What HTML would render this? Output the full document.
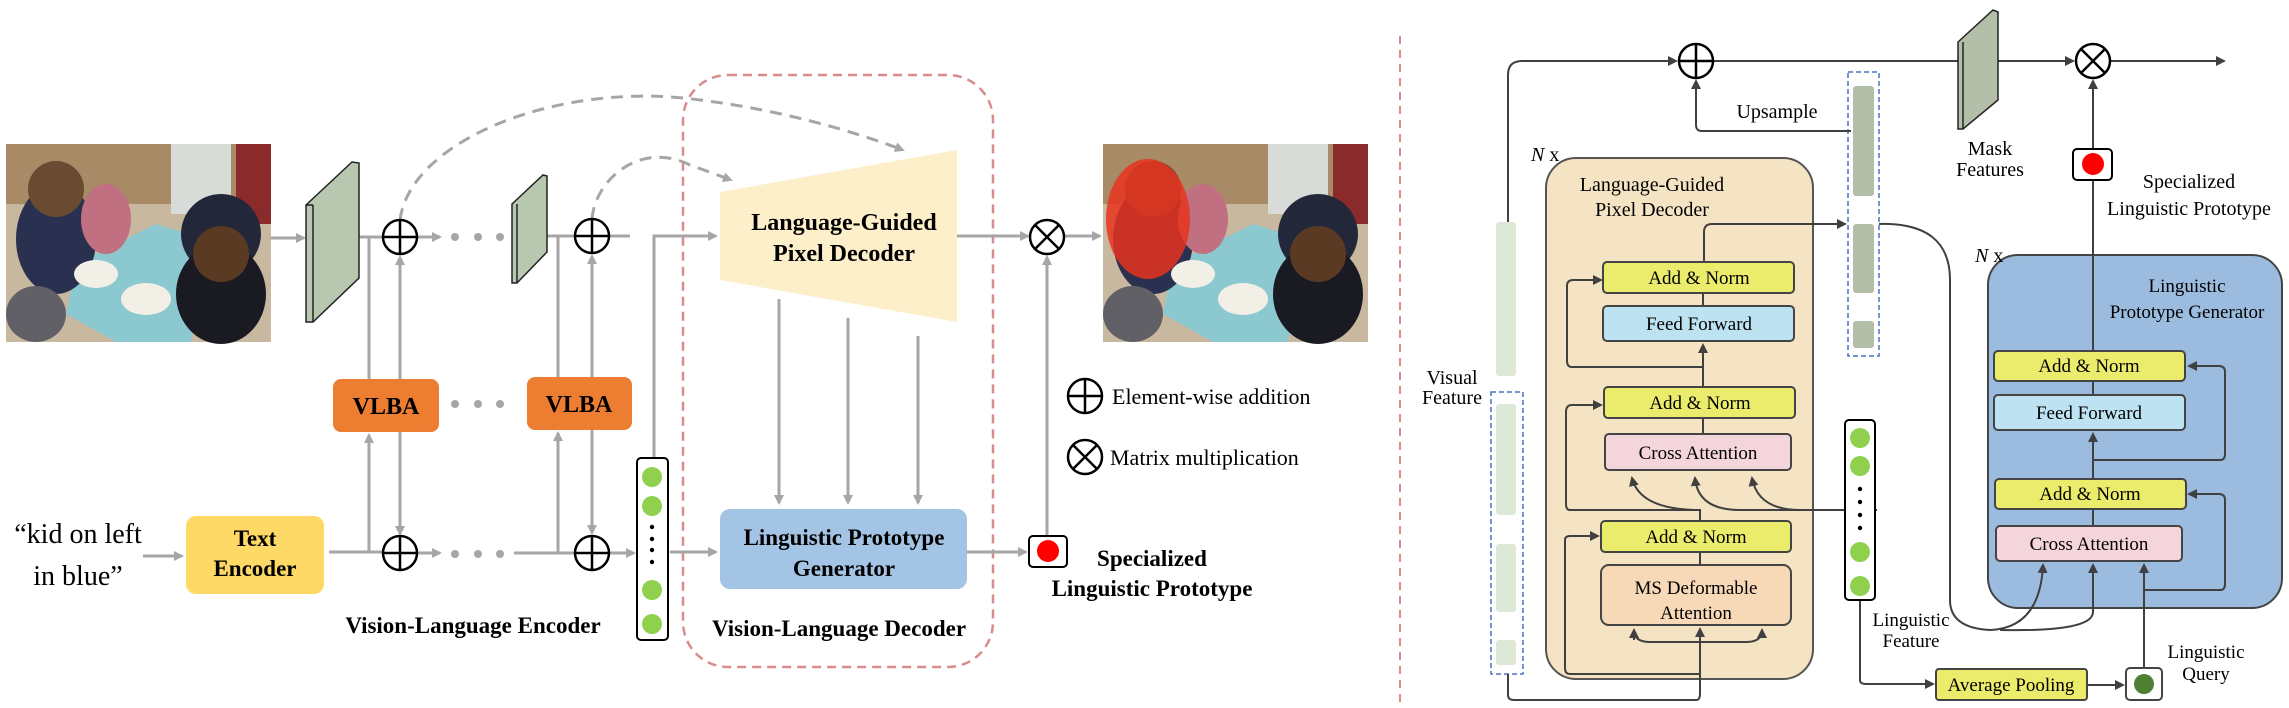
<!DOCTYPE html>
<html><head><meta charset="utf-8"><style>
html,body{margin:0;padding:0;background:#fff;}
svg{display:block;font-family:"Liberation Serif",serif;}
</style></head><body>
<svg width="2289" height="708" viewBox="0 0 2289 708" xmlns="http://www.w3.org/2000/svg">
<defs>
<marker id="ag" markerWidth="10" markerHeight="10" refX="8" refY="5" orient="auto" markerUnits="userSpaceOnUse"><path d="M0,0 L10,5 L0,10 z" fill="#a6a6a6"/></marker>
<marker id="ad" markerWidth="10" markerHeight="10" refX="8" refY="5" orient="auto" markerUnits="userSpaceOnUse"><path d="M0,0 L10,5 L0,10 z" fill="#404040"/></marker>
<g id="photo">
<rect x="0" y="0" width="265" height="198" fill="#c9b8a0"/>
<rect x="0" y="0" width="265" height="60" fill="#a88a66"/>
<rect x="165" y="0" width="60" height="70" fill="#d8dcd8"/>
<rect x="230" y="0" width="35" height="80" fill="#8a2a2a"/>
<polygon points="70,120 150,80 200,95 185,198 110,198 60,170" fill="#8cc8d0"/>
<ellipse cx="50" cy="95" rx="40" ry="55" fill="#2a3050"/>
<ellipse cx="50" cy="45" rx="28" ry="28" fill="#6a4a30"/>
<ellipse cx="100" cy="75" rx="25" ry="35" fill="#c07080"/>
<ellipse cx="215" cy="90" rx="40" ry="40" fill="#22283a"/>
<ellipse cx="215" cy="150" rx="45" ry="50" fill="#1a1a22"/>
<ellipse cx="215" cy="110" rx="28" ry="28" fill="#5a3a22"/>
<ellipse cx="90" cy="130" rx="22" ry="14" fill="#f2efe6"/>
<ellipse cx="140" cy="155" rx="25" ry="16" fill="#f2efe6"/>
<ellipse cx="30" cy="170" rx="30" ry="28" fill="#606066"/>
</g>
</defs>

<!-- LEFT PANEL -->
<use href="#photo" x="6" y="144"/>
<g transform="translate(1103,144)"><use href="#photo"/><ellipse cx="45" cy="75" rx="42" ry="60" fill="#e8321e" opacity="0.85"/></g>

<!-- decoder dashed box -->
<rect x="683" y="75" width="310" height="592" rx="45" fill="none" stroke="#d98c8c" stroke-width="2.5" stroke-dasharray="9,6"/>

<g stroke="#a6a6a6" stroke-width="3" fill="none">
<line x1="271" y1="238" x2="304" y2="238" marker-end="url(#ag)"/>
<line x1="359" y1="237" x2="383" y2="237"/>
<line x1="417" y1="237" x2="440" y2="237" marker-end="url(#ag)"/>
<line x1="547" y1="236" x2="575" y2="236"/>
<line x1="609" y1="236" x2="630" y2="236"/>
<line x1="957" y1="236" x2="1028" y2="236" marker-end="url(#ag)"/>
<line x1="1064" y1="236" x2="1100" y2="236" marker-end="url(#ag)"/>
<polyline points="654,458 654,236 716,236" marker-end="url(#ag)"/>
<!-- vlba connectors -->
<line x1="369" y1="379" x2="369" y2="237"/>
<line x1="400" y1="379" x2="400" y2="257" marker-end="url(#ag)"/>
<line x1="558" y1="377" x2="558" y2="236"/>
<line x1="592" y1="377" x2="592" y2="256" marker-end="url(#ag)"/>
<line x1="369" y1="553" x2="369" y2="435" marker-end="url(#ag)"/>
<line x1="400" y1="432" x2="400" y2="534" marker-end="url(#ag)"/>
<line x1="558" y1="553" x2="558" y2="433" marker-end="url(#ag)"/>
<line x1="592" y1="430" x2="592" y2="533" marker-end="url(#ag)"/>
<line x1="143" y1="556" x2="182" y2="556" marker-end="url(#ag)"/>
<line x1="329" y1="552" x2="383" y2="552"/>
<line x1="417" y1="553" x2="440" y2="553" marker-end="url(#ag)"/>
<line x1="514" y1="553" x2="575" y2="553"/>
<line x1="609" y1="553" x2="634" y2="553" marker-end="url(#ag)"/>
<line x1="670" y1="552" x2="716" y2="552" marker-end="url(#ag)"/>
<line x1="779" y1="299" x2="779" y2="503" marker-end="url(#ag)"/>
<line x1="848" y1="318" x2="848" y2="503" marker-end="url(#ag)"/>
<line x1="918" y1="336" x2="918" y2="503" marker-end="url(#ag)"/>
<line x1="967" y1="552" x2="1026" y2="552" marker-end="url(#ag)"/>
<line x1="1047" y1="536" x2="1047" y2="257" marker-end="url(#ag)"/>
<path d="M400,220 C410,140 560,80 700,100 C780,110 850,130 903,150" stroke-dasharray="12,8" marker-end="url(#ag)"/>
<path d="M592,219 C595,180 640,140 690,165 C710,172 720,176 731,180" stroke-dasharray="12,8" marker-end="url(#ag)"/>
</g>
<g fill="#a6a6a6">
<circle cx="455" cy="237" r="4"/><circle cx="478" cy="237" r="4"/><circle cx="500" cy="237" r="4"/>
<circle cx="455" cy="404" r="4"/><circle cx="478" cy="404" r="4"/><circle cx="500" cy="404" r="4"/>
<circle cx="455" cy="554" r="4"/><circle cx="478" cy="554" r="4"/><circle cx="500" cy="554" r="4"/>
</g>

<!-- slabs -->
<polygon points="306,205 352,162 359,163 359,278 313,322 306,322" fill="#b8c8b0" stroke="#222" stroke-width="1.5"/>
<line x1="313" y1="205" x2="313" y2="322" stroke="#222" stroke-width="1.5"/>
<line x1="306" y1="205" x2="313" y2="205" stroke="#222" stroke-width="1.5"/>
<polygon points="512,204 543,175 547,176 547,252 517,283 512,283" fill="#b8c8b0" stroke="#222" stroke-width="1.5"/>
<line x1="517" y1="204" x2="517" y2="283" stroke="#222" stroke-width="1.5"/>

<!-- plus / times -->
<g stroke="#000" stroke-width="2.5" fill="#fff">
<circle cx="400" cy="237" r="17"/><circle cx="592" cy="236" r="17"/>
<circle cx="400" cy="553" r="17"/><circle cx="592" cy="553" r="17"/>
<circle cx="1047" cy="237" r="17"/>
<circle cx="1085" cy="396" r="17"/><circle cx="1085" cy="457" r="17"/>
</g>
<g stroke="#000" stroke-width="2.5">
<path d="M383,237 H417 M400,220 V254"/>
<path d="M575,236 H609 M592,219 V253"/>
<path d="M383,553 H417 M400,536 V570"/>
<path d="M575,553 H609 M592,536 V570"/>
<path d="M1035,225 L1059,249 M1059,225 L1035,249"/>
<path d="M1068,396 H1102 M1085,379 V413"/>
<path d="M1073,445 L1097,469 M1097,445 L1073,469"/>
</g>

<!-- trapezoid -->
<polygon points="720,192 957,150 957,322 720,280" fill="#fdefc9"/>
<text x="844" y="230" font-size="24" font-weight="bold" text-anchor="middle">Language-Guided</text>
<text x="844" y="261" font-size="24" font-weight="bold" text-anchor="middle">Pixel Decoder</text>

<!-- LPG -->
<rect x="720" y="509" width="247" height="80" rx="10" fill="#a4c4e6"/>
<text x="844" y="545" font-size="23" font-weight="bold" text-anchor="middle">Linguistic Prototype</text>
<text x="844" y="576" font-size="23" font-weight="bold" text-anchor="middle">Generator</text>

<!-- VLBA -->
<rect x="333" y="379" width="106" height="53" rx="8" fill="#ed7d31"/>
<text x="386" y="414" font-size="24" font-weight="bold" text-anchor="middle">VLBA</text>
<rect x="527" y="377" width="105" height="53" rx="8" fill="#ed7d31"/>
<text x="579" y="412" font-size="24" font-weight="bold" text-anchor="middle">VLBA</text>

<!-- text encoder -->
<rect x="186" y="516" width="138" height="78" rx="10" fill="#ffd966"/>
<text x="255" y="546" font-size="23" font-weight="bold" text-anchor="middle">Text</text>
<text x="255" y="576" font-size="23" font-weight="bold" text-anchor="middle">Encoder</text>
<text x="78" y="543" font-size="28" text-anchor="middle">“kid on left</text>
<text x="78" y="585" font-size="28" text-anchor="middle">in blue”</text>

<!-- column -->
<rect x="637" y="458" width="31" height="182" rx="4" fill="#fff" stroke="#000" stroke-width="2"/>
<g fill="#8fd14f"><ellipse cx="652" cy="477" rx="10" ry="10"/><ellipse cx="652" cy="506" rx="10" ry="10"/><ellipse cx="652" cy="590" rx="10" ry="10"/><ellipse cx="652" cy="624" rx="10" ry="10"/></g>
<g fill="#000"><circle cx="652" cy="527" r="2.2"/><circle cx="652" cy="539" r="2.2"/><circle cx="652" cy="550" r="2.2"/><circle cx="652" cy="562" r="2.2"/></g>

<!-- specialized -->
<rect x="1029" y="536" width="38" height="31" rx="4" fill="#fff" stroke="#000" stroke-width="2"/>
<circle cx="1048" cy="551" r="11" fill="#ff0000"/>
<text x="1152" y="566" font-size="23" font-weight="bold" text-anchor="middle">Specialized</text>
<text x="1152" y="596" font-size="23" font-weight="bold" text-anchor="middle">Linguistic Prototype</text>
<text x="1112" y="404" font-size="22">Element-wise addition</text>
<text x="1110" y="465" font-size="22">Matrix multiplication</text>
<text x="473" y="633" font-size="23" font-weight="bold" text-anchor="middle">Vision-Language Encoder</text>
<text x="839" y="636" font-size="23" font-weight="bold" text-anchor="middle">Vision-Language Decoder</text>

<line x1="1400" y1="36" x2="1400" y2="708" stroke="#d98c8c" stroke-width="2" stroke-dasharray="8,6"/>

<!-- RIGHT PANEL -->
<rect x="1546" y="158" width="267" height="521" rx="30" fill="#f5e4c3" stroke="#555" stroke-width="2"/>
<rect x="1988" y="255" width="294" height="353" rx="30" fill="#9bbcdf" stroke="#444" stroke-width="2"/>

<!-- visual feature -->
<rect x="1496" y="222" width="20" height="154" rx="3" fill="#dde8d6"/>
<rect x="1491" y="392" width="32" height="282" fill="none" stroke="#4a72c4" stroke-width="1.5" stroke-dasharray="5,3"/>
<rect x="1496" y="404" width="20" height="111" rx="3" fill="#dde8d6"/>
<rect x="1496" y="544" width="20" height="68" rx="3" fill="#dde8d6"/>
<rect x="1496" y="640" width="20" height="25" rx="3" fill="#dde8d6"/>
<text x="1452" y="384" font-size="20" text-anchor="middle">Visual</text>
<text x="1452" y="404" font-size="20" text-anchor="middle">Feature</text>

<!-- upsample dashed -->
<rect x="1848" y="72" width="31" height="284" fill="none" stroke="#4a72c4" stroke-width="1.5" stroke-dasharray="5,3"/>
<rect x="1853" y="86" width="21" height="110" rx="3" fill="#b3bfa8"/>
<rect x="1853" y="224" width="21" height="69" rx="3" fill="#b3bfa8"/>
<rect x="1853" y="321" width="21" height="27" rx="3" fill="#b3bfa8"/>

<g stroke="#404040" stroke-width="2" fill="none">
<path d="M1508,222 V75 Q1508,61 1522,61 H1676" marker-end="url(#ad)"/>
<line x1="1713" y1="61" x2="1958" y2="61"/>
<line x1="1998" y1="61" x2="2073" y2="61" marker-end="url(#ad)"/>
<line x1="2110" y1="61" x2="2224" y2="61" marker-end="url(#ad)"/>
<path d="M1851,131 H1702 Q1696,131 1696,125 V81" marker-end="url(#ad)"/>
<line x1="2093" y1="149" x2="2093" y2="81" marker-end="url(#ad)"/>
<line x1="2093" y1="180" x2="2093" y2="351"/>
<!-- LGPD internals -->
<path d="M1508,674 V695 Q1508,700 1514,700 H1696 Q1700,700 1700,694 V629" marker-end="url(#ad)"/>
<path d="M1634,630 Q1634,642 1650,642 H1746 Q1762,642 1762,630" marker-end="url(#ad)"/>
<line x1="1634" y1="640" x2="1634" y2="630" marker-end="url(#ad)"/>
<path d="M1700,674 H1570 Q1565,674 1565,668 V540 Q1565,536 1570,536 H1598" marker-end="url(#ad)"/>
<line x1="1700" y1="565" x2="1700" y2="552"/>
<path d="M1700,521 V510 H1570 Q1566,510 1566,504 V412 Q1566,405 1572,405 H1601" marker-end="url(#ad)"/>
<path d="M1700,510 Q1640,510 1632,478" marker-end="url(#ad)"/>
<path d="M1877,510 H1740 Q1698,510 1695,478" marker-end="url(#ad)"/>
<path d="M1800,510 Q1758,510 1752,478" marker-end="url(#ad)"/>
<line x1="1703" y1="434" x2="1703" y2="418"/>
<line x1="1703" y1="387" x2="1703" y2="345" marker-end="url(#ad)"/>
<path d="M1703,367 H1572 Q1567,367 1567,361 V286 Q1567,280 1573,280 H1601" marker-end="url(#ad)"/>
<line x1="1703" y1="306" x2="1703" y2="293"/>
<path d="M1704,262 V232 Q1704,224 1712,224 H1845" marker-end="url(#ad)"/>
<!-- linguistic feature to avg pooling -->
<path d="M1860,600 V680 Q1860,684 1866,684 H1933" marker-end="url(#ad)"/>
<line x1="2087" y1="685" x2="2123" y2="685" marker-end="url(#ad)"/>
<!-- curve to LPG cross attn -->
<path d="M1879,224 Q1950,222 1950,280 V600 Q1950,628 1990,630 Q2040,628 2043,565" marker-end="url(#ad)"/>
<path d="M2000,630 Q2093,632 2093,612 V565" marker-end="url(#ad)"/>
<line x1="2144" y1="668" x2="2144" y2="565" marker-end="url(#ad)"/>
<path d="M2144,590 H2220 Q2225,590 2225,584 V500 Q2225,494 2219,494 H2189" marker-end="url(#ad)"/>
<line x1="2093" y1="526" x2="2093" y2="509"/>
<line x1="2093" y1="479" x2="2093" y2="434" marker-end="url(#ad)"/>
<path d="M2093,460 H2220 Q2225,460 2225,454 V372 Q2225,366 2219,366 H2189" marker-end="url(#ad)"/>
<line x1="2093" y1="395" x2="2093" y2="381"/>
</g>

<!-- plus/times right -->
<circle cx="1696" cy="61" r="17" fill="#fff" stroke="#000" stroke-width="2.5"/>
<path d="M1679,61 H1713 M1696,44 V78" stroke="#000" stroke-width="2.5"/>
<circle cx="2093" cy="61" r="17" fill="#fff" stroke="#000" stroke-width="2.5"/>
<path d="M2081,49 L2105,73 M2105,49 L2081,73" stroke="#000" stroke-width="2.5"/>

<!-- mask features slab -->
<polygon points="1958,42 1993,10 1998,12 1998,100 1963,129 1958,129" fill="#b3bfa8" stroke="#222" stroke-width="1.5"/>
<line x1="1963" y1="42" x2="1963" y2="129" stroke="#222" stroke-width="1.5"/>
<text x="1990" y="155" font-size="20" text-anchor="middle">Mask</text>
<text x="1990" y="176" font-size="20" text-anchor="middle">Features</text>
<text x="1777" y="118" font-size="20" text-anchor="middle">Upsample</text>

<rect x="2073" y="149" width="39" height="31" rx="4" fill="#fff" stroke="#000" stroke-width="2"/>
<circle cx="2093" cy="164" r="11" fill="#ff0000"/>
<text x="2189" y="188" font-size="20" text-anchor="middle">Specialized</text>
<text x="2189" y="215" font-size="20" text-anchor="middle">Linguistic Prototype</text>

<text x="1531" y="161" font-size="20"><tspan font-style="italic">N</tspan> x</text>
<text x="1975" y="262" font-size="20"><tspan font-style="italic">N</tspan> x</text>
<text x="1652" y="191" font-size="20" text-anchor="middle">Language-Guided</text>
<text x="1652" y="216" font-size="20" text-anchor="middle">Pixel Decoder</text>
<text x="2187" y="292" font-size="19" text-anchor="middle">Linguistic</text>
<text x="2187" y="318" font-size="19" text-anchor="middle">Prototype Generator</text>

<g stroke="#444" stroke-width="2">
<rect x="1603" y="262" width="191" height="31" rx="4" fill="#ecec6c"/>
<rect x="1603" y="306" width="191" height="35" rx="4" fill="#bde3f2"/>
<rect x="1604" y="387" width="191" height="31" rx="4" fill="#ecec6c"/>
<rect x="1605" y="434" width="186" height="36" rx="4" fill="#f5d5dc"/>
<rect x="1601" y="521" width="190" height="31" rx="4" fill="#ecec6c"/>
<rect x="1601" y="565" width="190" height="60" rx="8" fill="#f7d9b8"/>
<rect x="1994" y="351" width="191" height="30" rx="4" fill="#ecec6c"/>
<rect x="1994" y="395" width="191" height="35" rx="4" fill="#bde3f2"/>
<rect x="1995" y="479" width="191" height="30" rx="4" fill="#ecec6c"/>
<rect x="1996" y="526" width="186" height="35" rx="4" fill="#f5d5dc"/>
<rect x="1936" y="669" width="151" height="31" rx="3" fill="#ecec6c"/>
<rect x="2126" y="668" width="36" height="32" rx="4" fill="#fff"/>
</g>
<circle cx="2144" cy="684" r="10" fill="#4e7f33"/>
<g font-size="19" text-anchor="middle">
<text x="1699" y="284">Add &amp; Norm</text>
<text x="1699" y="330">Feed Forward</text>
<text x="1700" y="409">Add &amp; Norm</text>
<text x="1698" y="459">Cross Attention</text>
<text x="1696" y="543">Add &amp; Norm</text>
<text x="1696" y="594">MS Deformable</text>
<text x="1696" y="619">Attention</text>
<text x="2089" y="372">Add &amp; Norm</text>
<text x="2089" y="419">Feed Forward</text>
<text x="2090" y="500">Add &amp; Norm</text>
<text x="2089" y="550">Cross Attention</text>
<text x="2011" y="691">Average Pooling</text>
<text x="1911" y="626">Linguistic</text>
<text x="1911" y="647">Feature</text>
<text x="2206" y="658">Linguistic</text>
<text x="2206" y="680">Query</text>
</g>

<!-- linguistic feature column -->
<rect x="1845" y="420" width="30" height="180" rx="4" fill="#fff" stroke="#000" stroke-width="2"/>
<g fill="#8fd14f"><circle cx="1860" cy="438" r="10"/><circle cx="1860" cy="466" r="10"/><circle cx="1860" cy="552" r="10"/><circle cx="1860" cy="586" r="10"/></g>
<g fill="#000"><circle cx="1860" cy="489" r="2.2"/><circle cx="1860" cy="502" r="2.2"/><circle cx="1860" cy="515" r="2.2"/><circle cx="1860" cy="528" r="2.2"/></g>
</svg>
</body></html>
